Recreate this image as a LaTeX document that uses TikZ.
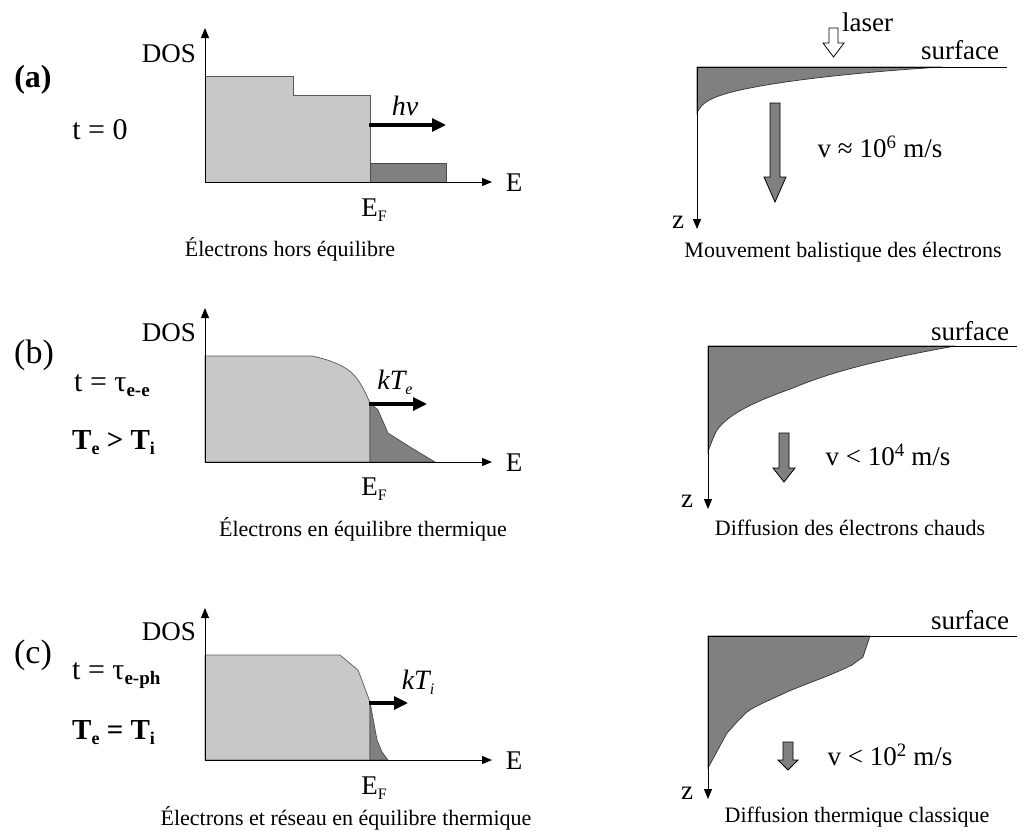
\documentclass[tikz,border=0pt]{standalone}
\usepackage{fontspec}
\setmainfont{Liberation Serif}
\usetikzlibrary{arrows.meta}
\definecolor{lightfill}{RGB}{200,200,200}
\definecolor{darkfill}{RGB}{128,128,128}
\newcommand\lowsub[2][16]{\raisebox{-5pt}{\fontsize{#1}{#1}\selectfont #2}}
\begin{document}
\begin{tikzpicture}[x=1pt,y=-1pt,
  lbl/.style={inner sep=0pt,font=\fontsize{27}{30}\selectfont},
  tag/.style={inner sep=0pt,font=\fontsize{34}{36}\selectfont},
  tline/.style={inner sep=0pt,font=\fontsize{30}{32}\selectfont},
  cond/.style={inner sep=0pt,font=\fontsize{29}{32}\selectfont\bfseries},
  captext/.style={inner sep=0pt,font=\fontsize{22}{26}\selectfont},
  axis/.style={line width=1pt,-{Triangle[length=10pt,width=8pt]}},
  surf/.style={line width=1pt},
  push/.style={line width=3.2pt,-{Triangle[length=14pt,width=13pt]}},
  lightdos/.style={fill=lightfill,draw=black!65,line width=0.7pt},
  darkdos/.style={fill=darkfill,draw=black!70,line width=0.7pt},
  profile/.style={fill=darkfill,draw=black!80,line width=0.7pt},
  fatarrow/.style={fill=darkfill,draw=black,line width=0.8pt,line join=miter},
  openarrow/.style={fill=white,draw=black,line width=0.8pt,line join=miter}]
\useasboundingbox (0,0) rectangle (1027,835);

% ================= (a) =================
\fill[lightdos] (205,182) -- (205,76) -- (293,76) -- (293,95) -- (370,95) -- (370,182) -- cycle;
\fill[darkdos] (370,182) -- (370,163) -- (446,163) -- (446,182) -- cycle;
\coordinate (a-o) at (205,182);
\coordinate (a-y) at (205,28);
\coordinate (a-x) at (492,182);
\draw[axis] (a-o) -- (a-y);
\draw[axis] (a-o) -- (a-x);
\coordinate (a-p0) at (369,125);
\coordinate (a-p1) at (446,125);
\draw[push] (a-p0) -- (a-p1);
\node[tag,font=\fontsize{32}{34}\selectfont\bfseries] (a-tag) at (33,80) {(a)};
\node[tline] (a-t) at (100,130) {t = 0};
\node[lbl,anchor=east] (a-dos) at (196,54) {DOS};
\node[lbl] (a-e) at (514,183) {E};
\node[lbl] (a-ef) at (374,210) {E\lowsub{F}};
\node[lbl,font=\fontsize{28}{30}\selectfont\itshape] (a-hv) at (405,106) {hν};
\node[captext] (a-cap) at (290,249) {Électrons hors équilibre};

% right (a)
\fill[profile] (697,67) -- (942,67)
  .. controls (860,72) and (790,80) .. (750,88)
  .. controls (715,95) and (702,101) .. (697,113) -- cycle;
\coordinate (ar-o) at (697,67);
\coordinate (ar-z) at (697,229);
\coordinate (ar-s) at (1007,67);
\draw[axis] (ar-o) -- (ar-z);
\draw[surf] (ar-o) -- (ar-s);
\draw[fatarrow] (770,103) -- (780,103) -- (780,177) -- (786,177) -- (775,202) -- (764,177) -- (770,177) -- cycle;
\draw[openarrow] (829,28) -- (838,28) -- (838,43) -- (844,43) -- (833.5,57) -- (823,43) -- (829,43) -- cycle;
\node[lbl,anchor=west] (ar-laser) at (842,22) {laser};
\node[lbl] (ar-surf) at (960,50) {surface};
\node[lbl] (ar-zl) at (678,222) {z};
\node[lbl] (ar-v) at (880,147) {v ≈ 10\textsuperscript{6} m/s};
\node[captext] (ar-cap) at (843,252) {Mouvement balistique des électrons};

% ================= (b) =================
\fill[lightdos] (205,462) -- (205,356) -- (312,356)
  .. controls (335,361) and (350,368) .. (358,380)
  .. controls (364,389) and (367,396) .. (370,403) -- (370,462) -- cycle;
\fill[darkdos] (370,462) -- (370,403) -- (378,410) -- (388,433) -- (410,447) -- (435,462) -- cycle;
\coordinate (b-o) at (205,462);
\coordinate (b-y) at (205,308);
\coordinate (b-x) at (492,462);
\draw[axis] (b-o) -- (b-y);
\draw[axis] (b-o) -- (b-x);
\coordinate (b-p0) at (369,404);
\coordinate (b-p1) at (427,404);
\draw[push] (b-p0) -- (b-p1);
\node[tag] (b-tag) at (34,355) {(b)};
\node[tline,anchor=west] (b-t) at (74,386) {t = τ\lowsub[19]{\bfseries e-e}};
\node[cond,anchor=west] (b-c) at (72,443) {T\lowsub[18]{\bfseries e} > T\lowsub[18]{\bfseries i}};
\node[lbl,anchor=east] (b-dos) at (196,333) {DOS};
\node[lbl] (b-e) at (514,463) {E};
\node[lbl] (b-ef) at (374,489) {E\lowsub{F}};
\node[lbl,font=\fontsize{28}{30}\selectfont\itshape] (b-kt) at (395,382) {kT\lowsub{e}};
\node[captext] (b-cap) at (363,529) {Électrons en équilibre thermique};

% right (b)
\fill[profile] (708,346) -- (955,346)
  .. controls (900,356) and (840,368) .. (793,388)
  .. controls (760,400) and (730,412) .. (717,430)
  .. controls (712,440) and (710,446) .. (708,452) -- cycle;
\coordinate (br-o) at (708,346);
\coordinate (br-z) at (708,509);
\coordinate (br-s) at (1017,346);
\draw[axis] (br-o) -- (br-z);
\draw[surf] (br-o) -- (br-s);
\draw[fatarrow] (779,433) -- (789,433) -- (789,468) -- (795,468) -- (784,482) -- (773,468) -- (779,468) -- cycle;
\node[lbl] (br-surf) at (970,331) {surface};
\node[lbl] (br-zl) at (687,501) {z};
\node[lbl] (br-v) at (888,455) {v < 10\textsuperscript{4} m/s};
\node[captext] (br-cap) at (850,528) {Diffusion des électrons chauds};

% ================= (c) =================
\fill[lightdos] (205,760) -- (205,655) -- (340,655) -- (358,670) -- (363,683) -- (370,702) -- (370,760) -- cycle;
\fill[darkdos] (370,760) -- (370,702) -- (377,740) -- (382,752) -- (388,760) -- cycle;
\coordinate (c-o) at (205,760);
\coordinate (c-y) at (205,608);
\coordinate (c-x) at (492,760);
\draw[axis] (c-o) -- (c-y);
\draw[axis] (c-o) -- (c-x);
\coordinate (c-p0) at (369,703);
\coordinate (c-p1) at (408,703);
\draw[push] (c-p0) -- (c-p1);
\node[tag] (c-tag) at (33,655) {(c)};
\node[tline,anchor=west] (c-t) at (72,676) {t = τ\lowsub[19]{\bfseries e-ph}};
\node[cond,anchor=west] (c-c) at (72,733) {T\lowsub[18]{\bfseries e} = T\lowsub[18]{\bfseries i}};
\node[lbl,anchor=east] (c-dos) at (196,632) {DOS};
\node[lbl] (c-e) at (514,761) {E};
\node[lbl] (c-ef) at (374,788) {E\lowsub{F}};
\node[lbl,font=\fontsize{28}{30}\selectfont\itshape] (c-kt) at (418,682) {kT\lowsub{i}};
\node[captext] (c-cap) at (346,818) {Électrons et réseau en équilibre thermique};

% right (c)
\fill[profile] (708,636) -- (870,636) -- (863,657) -- (852,665)
  .. controls (830,676) and (805,684) .. (787,692)
  .. controls (770,700) and (755,706) .. (747,712)
  .. controls (738,720) and (732,728) .. (727,733)
  -- (708,768) -- cycle;
\coordinate (cr-o) at (708,636);
\coordinate (cr-z) at (708,799);
\coordinate (cr-s) at (1017,636);
\draw[axis] (cr-o) -- (cr-z);
\draw[surf] (cr-o) -- (cr-s);
\draw[fatarrow] (783,742) -- (793,742) -- (793,760) -- (798,760) -- (788,770) -- (778,760) -- (783,760) -- cycle;
\node[lbl] (cr-surf) at (970,620) {surface};
\node[lbl] (cr-zl) at (687,793) {z};
\node[lbl] (cr-v) at (890,755) {v < 10\textsuperscript{2} m/s};
\node[captext] (cr-cap) at (857,817) {Diffusion thermique classique};
\end{tikzpicture}
\end{document}
